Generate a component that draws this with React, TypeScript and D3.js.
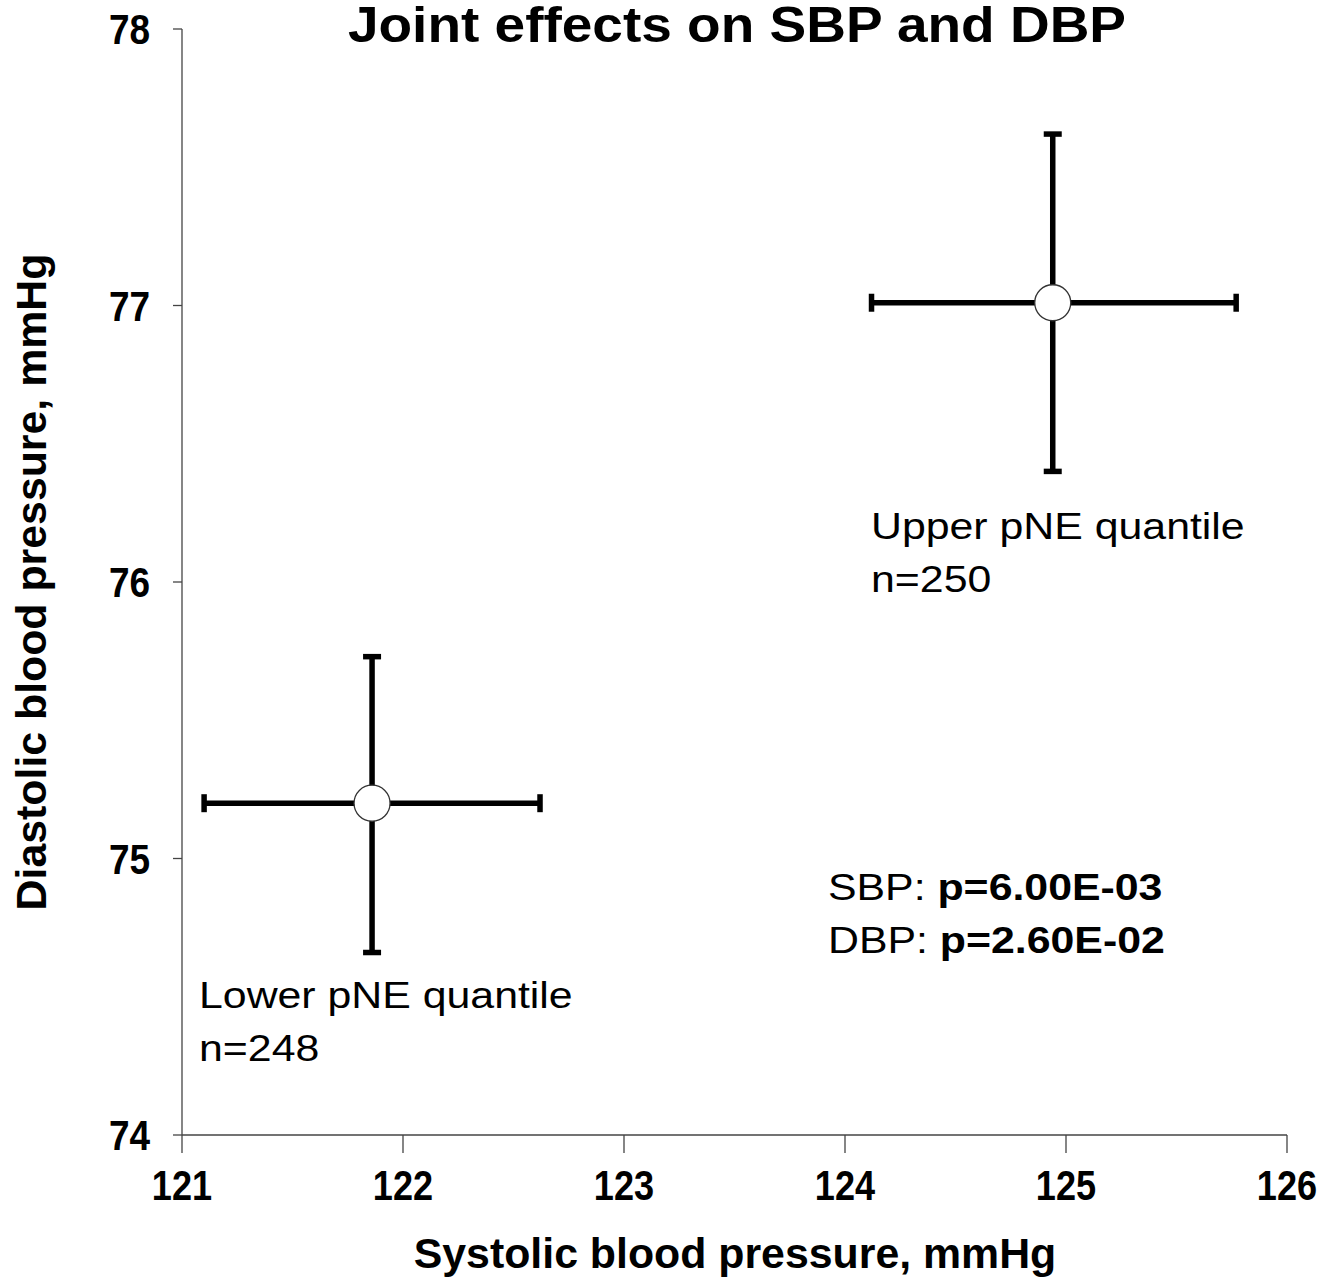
import React, { useEffect, useRef } from 'react'
import * as d3 from 'd3'

// group means with 95% CI for SBP (x) and DBP (y)
const groups = ['Lower pNE quantile', 'Upper pNE quantile']
const counts = [248, 250]
const sbpMean = [121.86, 124.94]
const sbpLow = [121.1, 124.12]
const sbpHigh = [122.62, 125.77]
const dbpMean = [75.2, 77.01]
const dbpLow = [74.66, 76.4]
const dbpHigh = [75.73, 77.62]

const xTicks = [121, 122, 123, 124, 125, 126]
const yTicks = [74, 75, 76, 77, 78]

const pLabels = [
    { name: 'SBP: ', p: 'p=6.00E-03' },
    { name: 'DBP: ', p: 'p=2.60E-02' },
]

const W = 1342
const H = 1279
const FONT = 'Liberation Sans, Arial, sans-serif'

const App: React.FC = () => {
    const svgRef = useRef<SVGSVGElement | null>(null)

    useEffect(() => {
        if (!svgRef.current) return
        const svg = d3.select(svgRef.current)
        svg.selectAll('*').remove()

        const x = d3.scaleLinear().domain([121, 126]).range([182, 1287])
        const y = d3.scaleLinear().domain([74, 78]).range([1135, 29])

        // text placed at (tx,ty) and stretched horizontally by sx
        const label = (tx: number, ty: number, sx: number, size: number, bold: boolean, anchor = 'start', rot = 0) =>
            svg.append('g')
                .attr('transform', `translate(${tx},${ty}) rotate(${rot}) scale(${sx},1)`)
                .append('text')
                .attr('text-anchor', anchor)
                .attr('font-family', FONT)
                .attr('font-weight', bold ? 'bold' : 'normal')
                .attr('font-size', size)

        svg.append('rect').attr('width', W).attr('height', H).attr('fill', '#fff')

        // axes
        const axes = svg.append('g').attr('stroke', '#444').attr('stroke-width', 1.3)
        axes.append('line')
            .attr('x1', x(121)).attr('x2', x(121))
            .attr('y1', y(78)).attr('y2', y(74))
        axes.append('line')
            .attr('x1', x(121)).attr('x2', x(126))
            .attr('y1', y(74)).attr('y2', y(74))
        axes.selectAll('line.yt')
            .data(yTicks)
            .enter()
            .append('line')
            .attr('x1', x(121) - 9).attr('x2', x(121))
            .attr('y1', (d) => y(d)).attr('y2', (d) => y(d))
        axes.selectAll('line.xt')
            .data(xTicks)
            .enter()
            .append('line')
            .attr('x1', (d) => x(d)).attr('x2', (d) => x(d))
            .attr('y1', y(74)).attr('y2', y(74) + 18)

        // tick labels
        yTicks.forEach((d) => label(150, y(d) + 15, 0.88, 42, true, 'end').text(d))
        xTicks.forEach((d) => label(x(d), 1200, 0.86, 42, true, 'middle').text(d))

        // titles
        label(737, 42, 1.1, 50, true, 'middle').text('Joint effects on SBP and DBP')
        label(735, 1268, 1.02, 42, true, 'middle').text('Systolic blood pressure, mmHg')
        label(46, 582, 1.02, 42, true, 'middle', -90).text('Diastolic blood pressure, mmHg')

        // error crosses
        const idx = d3.range(groups.length)
        const bars = svg.append('g').attr('stroke', '#000').attr('stroke-width', 5.5)
        idx.forEach((i) => {
            const cx = x(sbpMean[i])
            const cy = y(dbpMean[i])
            bars.append('line')
                .attr('x1', x(sbpLow[i])).attr('x2', x(sbpHigh[i]))
                .attr('y1', cy).attr('y2', cy)
            bars.append('line')
                .attr('x1', cx).attr('x2', cx)
                .attr('y1', y(dbpLow[i])).attr('y2', y(dbpHigh[i]))
            ;[sbpLow[i], sbpHigh[i]].forEach((v) =>
                bars.append('line')
                    .attr('x1', x(v)).attr('x2', x(v))
                    .attr('y1', cy - 9).attr('y2', cy + 9)
            )
            ;[dbpLow[i], dbpHigh[i]].forEach((v) =>
                bars.append('line')
                    .attr('x1', cx - 9).attr('x2', cx + 9)
                    .attr('y1', y(v)).attr('y2', y(v))
            )
        })
        svg.selectAll('circle.pt')
            .data(idx)
            .enter()
            .append('circle')
            .attr('cx', (i) => x(sbpMean[i]))
            .attr('cy', (i) => y(dbpMean[i]))
            .attr('r', 18)
            .attr('fill', '#fff')
            .attr('stroke', '#333')
            .attr('stroke-width', 1.3)

        // group labels below each cross
        const labelX = [199, 871]
        const labelY = [1008, 539]
        idx.forEach((i) => {
            label(labelX[i], labelY[i], 1.19, 36, false).text(groups[i])
            label(labelX[i], labelY[i] + 53, 1.19, 36, false).text(`n=${counts[i]}`)
        })

        // p-values
        pLabels.forEach((d, i) => {
            const t = label(828, 900 + i * 53, 1.19, 36, false)
            t.append('tspan').text(d.name)
            t.append('tspan').attr('font-weight', 'bold').text(d.p)
        })
    }, [])

    return (
        <div style={{ position: 'absolute', left: 0, top: 0 }}>
            <svg ref={svgRef} width={W} height={H} style={{ display: 'block' }}></svg>
        </div>
    )
}

export default App
